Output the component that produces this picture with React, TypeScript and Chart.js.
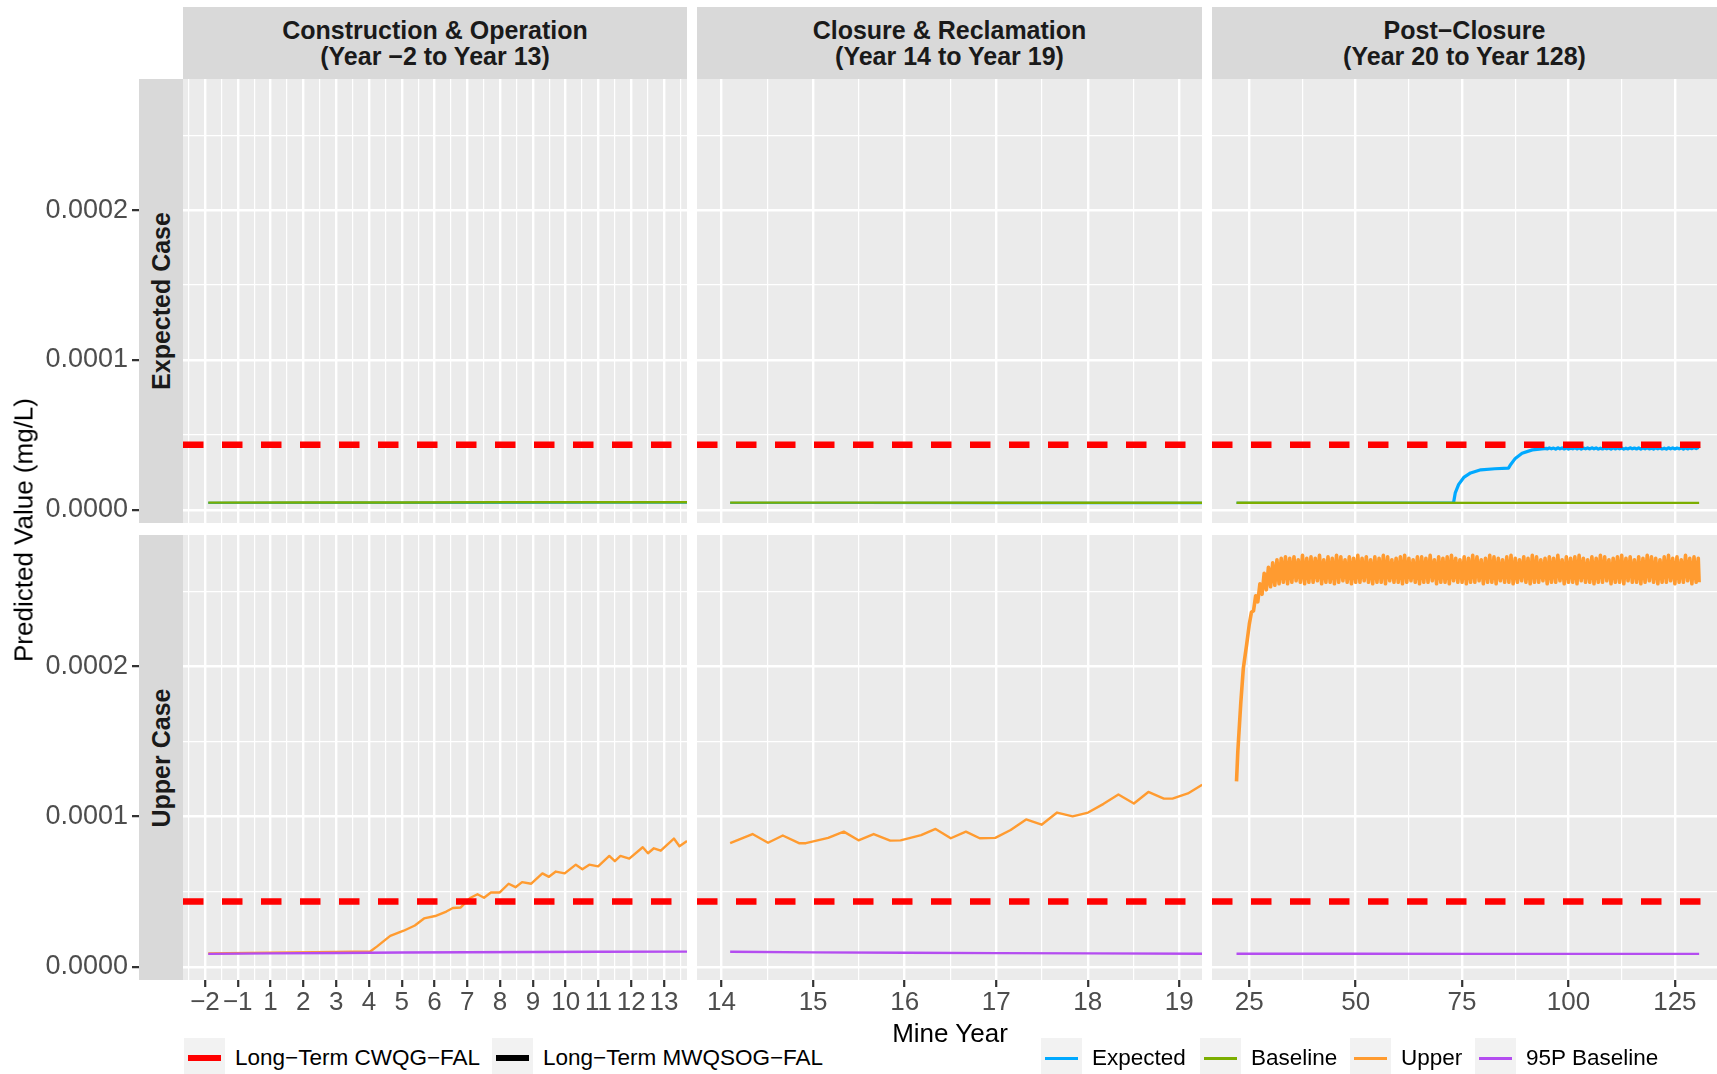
import React, { useEffect, useRef } from "react";
import { Chart, registerables } from "chart.js";

Chart.register(...registerables);

const FONT = "'Liberation Sans', Arial, Helvetica, sans-serif";

// ---------------- DATA (all concentrations in units of 1e-6 mg/L) ----------------
const cwqgFalValue = 43.5;

// y axis (shared)
const yRange = [-8.8, 287.5];
const yMajorTicks = [0, 100, 200];
const yMinorTicks = [50, 150, 250];
const yTickLabels = ["0.0000", "0.0001", "0.0002"];

// Construction & Operation (x = position index of mine year; no year 0)
const coTickLabels = ["\u22122", "\u22121", "1", "2", "3", "4", "5", "6", "7", "8", "9", "10", "11", "12", "13"];
const coTickPositions = [0, 1, 2, 3, 4, 5, 6, 7, 8, 9, 10, 11, 12, 13, 14];
const coMinorTicks = [-0.5, 0.5, 1.5, 2.5, 3.5, 4.5, 5.5, 6.5, 7.5, 8.5, 9.5, 10.5, 11.5, 12.5, 13.5, 14.5];
const coRange = [-0.67, 14.7];

const coExpectedX = [0.1, 4, 8, 12, 14.7];
const coExpectedY = [4.6, 4.7, 4.7, 4.8, 4.8];
const coBaselineX = [0.1, 3, 6, 9, 12, 14.7];
const coBaselineY = [4.8, 4.9, 4.9, 5.0, 5.0, 5.0];
const coUpperX = [0.1, 2.0, 4.0, 5.04, 5.25, 5.65, 6.06, 6.4, 6.68, 7.02, 7.36, 7.56, 7.8, 8.1, 8.31, 8.51, 8.72, 8.99, 9.26, 9.47, 9.67, 9.95, 10.29, 10.49, 10.7, 10.97, 11.31, 11.51, 11.72, 11.99, 12.33, 12.5, 12.67, 12.94, 13.35, 13.51, 13.69, 13.9, 14.3, 14.47, 14.7];
const coUpperY = [8.8, 9.4, 9.9, 10.2, 13.6, 20.6, 24.0, 27.5, 32.2, 33.8, 36.8, 39.1, 39.5, 46.0, 48.3, 46.0, 49.5, 49.5, 55.3, 53.0, 56.4, 55.3, 62.2, 59.9, 63.4, 62.2, 68.0, 65.0, 68.0, 66.9, 73.8, 70.3, 73.8, 72.0, 79.6, 75.6, 78.9, 77.3, 85.4, 80.3, 83.7];
const co95PX = [0.1, 2, 4, 6, 8, 10, 12, 14.7];
const co95PY = [8.6, 8.9, 9.2, 9.5, 9.7, 9.8, 10.0, 10.1];

// Closure & Reclamation (x = mine year)
const crTickLabels = ["14", "15", "16", "17", "18", "19"];
const crTickPositions = [14, 15, 16, 17, 18, 19];
const crMinorTicks = [14.5, 15.5, 16.5, 17.5, 18.5];
const crRange = [13.732, 19.248];

const crExpectedX = [14.094, 15.5, 17, 18.5, 19.25];
const crExpectedY = [4.6, 4.6, 4.5, 4.5, 4.5];
const crBaselineX = [14.094, 15.5, 17, 18.5, 19.25];
const crBaselineY = [4.8, 4.8, 4.7, 4.7, 4.7];
const crUpperX = [14.094, 14.338, 14.508, 14.669, 14.846, 14.921, 15.165, 15.335, 15.496, 15.662, 15.842, 15.955, 16.18, 16.338, 16.504, 16.669, 16.82, 16.99, 17.158, 17.327, 17.496, 17.665, 17.835, 18.004, 18.173, 18.335, 18.504, 18.662, 18.831, 18.925, 19.094, 19.25];
const crUpperY = [82.3, 88.4, 82.6, 87.4, 82.3, 82.3, 85.8, 90.0, 84.2, 88.4, 84.0, 84.2, 87.7, 91.8, 85.6, 90.0, 85.6, 85.8, 91.1, 98.1, 94.6, 102.7, 100.2, 102.7, 108.5, 114.7, 108.7, 116.4, 112.0, 112.0, 115.4, 121.2];
const cr95PX = [14.094, 15, 16, 17, 18, 19.25];
const cr95PY = [10.0, 9.6, 9.3, 9.1, 8.9, 8.7];

// Post-Closure (x = mine year)
const pcTickLabels = ["25", "50", "75", "100", "125"];
const pcTickPositions = [25, 50, 75, 100, 125];
const pcMinorTicks = [37.5, 62.5, 87.5, 112.5];
const pcRange = [16.24, 134.9];

const pcBaselineX = [22, 50, 80, 110, 130.7];
const pcBaselineY = [4.7, 4.7, 4.6, 4.6, 4.6];
const pc95PX = [22, 50, 80, 110, 130.7];
const pc95PY = [8.7, 8.7, 8.6, 8.6, 8.6];

// Expected (post-closure): flat segment hidden under baseline, then rise and plateau
const pcExpectedFlatX = [22, 45, 73.0];
const pcExpectedFlatY = [4.6, 4.6, 4.7];
const pcExpectedRampX = [73.0, 73.4, 74.2, 75.4, 77.0, 79.4, 82.7, 85.9, 86.3, 87.5, 89.1, 91.5, 94.8];
const pcExpectedRampY = [4.8, 11.3, 17.0, 21.6, 24.6, 26.7, 27.4, 27.8, 29.7, 34.3, 37.7, 40.0, 41.0];
const pcExpectedCycleStart = 95; // one low/high pair per year, 95..130
const pcExpectedLows = [40.6, 40.7, 40.5, 40.7, 40.6, 40.5, 40.7, 40.6, 40.5, 40.7, 40.6, 40.7, 40.5, 40.6, 40.7, 40.5, 40.6, 40.7, 40.5, 40.6, 40.7, 40.6, 40.5, 40.7, 40.6, 40.5, 40.7, 40.6, 40.5, 40.7, 40.6, 40.7, 40.5, 40.6, 40.8, 40.9];
const pcExpectedHighs = [41.3, 41.2, 41.4, 41.3, 41.3, 41.1, 41.4, 41.3, 41.2, 41.3, 41.4, 41.3, 41.1, 41.3, 41.2, 41.4, 41.3, 41.3, 41.1, 41.4, 41.2, 41.3, 41.3, 41.4, 41.2, 41.3, 41.3, 41.1, 41.4, 41.3, 41.2, 41.3, 41.4, 41.3, 41.5, 41.6];

const pcUpperRampX = [22.0, 22.3, 23.0, 23.6, 24.4];
const pcUpperRampY = [123.5, 143.0, 175.6, 198.7, 214.9];
const pcUpperCycleStart = 25; // one trough/peak pair per year, 25..130
const pcUpperTroughs = [
  228, 237, 243, 248, 251, 253, 254, 255, 256, 255,
  256, 257, 256, 255, 256, 256, 257, 255, 256, 256,
  255, 256, 257, 256, 255, 256, 256, 257, 256, 255,
  256, 256, 255, 257, 256, 256, 255, 256, 257, 256,
  255, 256, 256, 257, 255, 256, 256, 255, 257, 256,
  256, 255, 256, 256, 257, 255, 256, 256, 255, 257,
  256, 256, 255, 256, 257, 256, 255, 256, 256, 257,
  255, 256, 256, 257, 255, 256, 256, 255, 257, 256,
  256, 255, 256, 256, 257, 255, 256, 256, 255, 257,
  256, 256, 255, 256, 257, 256, 255, 256, 256, 257,
  255, 256, 256, 257, 255, 256,
];
const pcUpperPeaks = [
  236, 247, 255, 262, 266, 269, 271, 272, 273, 272,
  273, 271, 274, 272, 273, 272, 274, 271, 273, 272,
  274, 273, 271, 273, 272, 274, 272, 273, 271, 273,
  272, 274, 273, 271, 272, 273, 274, 272, 271, 273,
  273, 272, 274, 271, 273, 272, 273, 274, 272, 271,
  273, 272, 274, 273, 271, 272, 274, 273, 272, 271,
  273, 274, 272, 271, 273, 272, 274, 273, 271, 272,
  273, 272, 274, 271, 273, 272, 273, 274, 272, 271,
  273, 272, 274, 273, 271, 272, 273, 274, 272, 273,
  271, 273, 272, 274, 273, 272, 271, 273, 274, 272,
  273, 271, 274, 272, 273, 272,
];
const pcSeriesEnd = 130.7;

// ---------------- STYLE ----------------
const COLORS = {
  cwqg: "#FF0000",
  mwqsog: "#000000",
  expected: "#00A9FF",
  baseline: "#7CAE00",
  upper: "#FF9B30",
  p95: "#B44DF0",
};
const LINE_W = 2.4;
const BAND_W = 3.6;
const GUIDE_W = 6.5;
const GUIDE_DASH = [20.5, 18.5];

const COLS = [
  { left: 183, width: 504 },
  { left: 697, width: 505 },
  { left: 1212, width: 505 },
];
const ROWS = [
  { top: 79, height: 444 },
  { top: 535, height: 445 },
];
const Y_AXIS_W = 183;
const X_AXIS_H = 50;

// ---------------- helpers ----------------
type Series = { xs: number[]; ys: number[]; color: string; width: number; dash?: number[] };
type AxisSpec = { min: number; max: number; major: number[]; minor: number[]; labels: string[] };

function cyclePairs(start: number, lows: number[], highs: number[], offset: number, endX: number) {
  const xs: number[] = [];
  const ys: number[] = [];
  lows.forEach((lo, i) => {
    xs.push(start + i, start + i + offset);
    ys.push(lo, highs[i]);
  });
  xs.push(endX);
  ys.push(lows[lows.length - 1]);
  return { xs, ys };
}

const pcUpperCycle = cyclePairs(pcUpperCycleStart, pcUpperTroughs, pcUpperPeaks, 0.5, pcSeriesEnd);
const pcExpectedCycle = cyclePairs(pcExpectedCycleStart, pcExpectedLows, pcExpectedHighs, 0.5, pcSeriesEnd);

const coX: AxisSpec = { min: coRange[0], max: coRange[1], major: coTickPositions, minor: coMinorTicks, labels: coTickLabels };
const crX: AxisSpec = { min: crRange[0], max: crRange[1], major: crTickPositions, minor: crMinorTicks, labels: crTickLabels };
const pcX: AxisSpec = { min: pcRange[0], max: pcRange[1], major: pcTickPositions, minor: pcMinorTicks, labels: pcTickLabels };
const yAxis: AxisSpec = { min: yRange[0], max: yRange[1], major: yMajorTicks, minor: yMinorTicks, labels: yTickLabels };

function guide(axis: AxisSpec): Series {
  return { xs: [axis.min, axis.max], ys: [cwqgFalValue, cwqgFalValue], color: COLORS.cwqg, width: GUIDE_W, dash: GUIDE_DASH };
}

const isMajor = (axis: AxisSpec, v: number) => axis.major.some((m) => Math.abs(m - v) < 1e-9);

function scaleOptions(axis: AxisSpec, horizontal: boolean, show: boolean, size: number, tickLen: number, pad: number, fontSize: number) {
  const all = [...axis.major, ...axis.minor].filter((v) => v >= axis.min && v <= axis.max).sort((a, b) => a - b);
  return {
    type: "linear",
    position: horizontal ? "bottom" : "left",
    min: axis.min,
    max: axis.max,
    border: { display: false },
    afterBuildTicks: (sc: any) => {
      sc.ticks = all.map((v) => ({ value: v }));
    },
    afterFit: (sc: any) => {
      if (horizontal) sc.height = size;
      else sc.width = size;
      sc.paddingLeft = 0;
      sc.paddingRight = 0;
      sc.paddingTop = 0;
      sc.paddingBottom = 0;
    },
    ticks: {
      display: show,
      autoSkip: false,
      maxRotation: 0,
      minRotation: 0,
      padding: pad,
      color: "#4D4D4D",
      font: { family: FONT, size: fontSize },
      callback: (value: any) => {
        const i = axis.major.findIndex((m) => Math.abs(m - Number(value)) < 1e-9);
        return i >= 0 ? axis.labels[i] : "";
      },
    },
    grid: {
      color: "#FFFFFF",
      lineWidth: (c: any) => (c.tick && isMajor(axis, c.tick.value) ? 2.4 : 1.2),
      drawTicks: show,
      tickLength: tickLen,
      tickWidth: 2.2,
      tickColor: (c: any) => (c.tick && isMajor(axis, c.tick.value) ? "#333333" : "rgba(0,0,0,0)"),
    },
  };
}

type PanelProps = {
  left: number;
  top: number;
  width: number;
  height: number;
  x: AxisSpec;
  showX: boolean;
  showY: boolean;
  series: Series[];
};

function Panel(p: PanelProps) {
  const ref = useRef<HTMLCanvasElement>(null);
  const axisW = p.showY ? Y_AXIS_W : 0;
  const axisH = p.showX ? X_AXIS_H : 0;
  const cw = p.width + axisW;
  const ch = p.height + axisH;
  useEffect(() => {
    if (!ref.current) return;
    const chart = new Chart(ref.current, {
      type: "line",
      data: {
        datasets: p.series.map((s) => ({
          data: s.xs.map((x, i) => ({ x, y: s.ys[i] })),
          borderColor: s.color,
          backgroundColor: s.color,
          borderWidth: s.width,
          borderDash: s.dash || [],
          borderCapStyle: "butt",
          borderJoinStyle: "round",
          pointRadius: 0,
          pointHoverRadius: 0,
          tension: 0,
          fill: false,
          clip: 0,
        })),
      } as any,
      options: {
        animation: false,
        responsive: false,
        maintainAspectRatio: false,
        devicePixelRatio: 1,
        events: [],
        layout: { padding: 0, autoPadding: false },
        plugins: { legend: { display: false }, tooltip: { enabled: false }, title: { display: false } },
        scales: {
          x: scaleOptions(p.x, true, p.showX, axisH, 7, 0, 26),
          y: scaleOptions(yAxis, false, p.showY, axisW, 51, 4, 27),
        },
      } as any,
    });
    return () => chart.destroy();
  }, []);
  return (
    <canvas
      ref={ref}
      width={cw}
      height={ch}
      style={{ position: "absolute", left: p.left - axisW, top: p.top, width: cw, height: ch, zIndex: 1 }}
    />
  );
}

const colTitles = [
  ["Construction & Operation", "(Year \u22122 to Year 13)"],
  ["Closure & Reclamation", "(Year 14 to Year 19)"],
  ["Post\u2212Closure", "(Year 20 to Year 128)"],
];
const rowTitles = ["Expected Case", "Upper Case"];

const panelSeries: Series[][][] = [
  [
    [
      guide(coX),
      { xs: coBaselineX, ys: coBaselineY, color: COLORS.baseline, width: LINE_W },
      { xs: coExpectedX, ys: coExpectedY, color: COLORS.expected, width: LINE_W },
    ],
    [
      guide(crX),
      { xs: crBaselineX, ys: crBaselineY, color: COLORS.baseline, width: LINE_W },
      { xs: crExpectedX, ys: crExpectedY, color: COLORS.expected, width: LINE_W },
    ],
    [
      guide(pcX),
      { xs: pcBaselineX, ys: pcBaselineY, color: COLORS.baseline, width: LINE_W },
      { xs: pcExpectedFlatX, ys: pcExpectedFlatY, color: COLORS.expected, width: LINE_W },
      { xs: [...pcExpectedRampX, ...pcExpectedCycle.xs], ys: [...pcExpectedRampY, ...pcExpectedCycle.ys], color: COLORS.expected, width: 3.2 },
    ],
  ],
  [
    [
      guide(coX),
      { xs: co95PX, ys: co95PY, color: COLORS.p95, width: LINE_W },
      { xs: coUpperX, ys: coUpperY, color: COLORS.upper, width: LINE_W },
    ],
    [
      guide(crX),
      { xs: cr95PX, ys: cr95PY, color: COLORS.p95, width: LINE_W },
      { xs: crUpperX, ys: crUpperY, color: COLORS.upper, width: LINE_W },
    ],
    [
      guide(pcX),
      { xs: pc95PX, ys: pc95PY, color: COLORS.p95, width: LINE_W },
      { xs: [...pcUpperRampX, ...pcUpperCycle.xs], ys: [...pcUpperRampY, ...pcUpperCycle.ys], color: COLORS.upper, width: BAND_W },
    ],
  ],
];
const colAxes = [coX, crX, pcX];

const guideLegend = [
  { label: "Long\u2212Term CWQG\u2212FAL", color: COLORS.cwqg, width: 6, left: 184 },
  { label: "Long\u2212Term MWQSOG\u2212FAL", color: COLORS.mwqsog, width: 6, left: 492 },
];
const seriesLegend = [
  { label: "Expected", color: COLORS.expected, width: 3, left: 1041 },
  { label: "Baseline", color: COLORS.baseline, width: 3, left: 1200 },
  { label: "Upper", color: COLORS.upper, width: 3, left: 1350 },
  { label: "95P Baseline", color: COLORS.p95, width: 3, left: 1475 },
];

function LegendItem({ it }: { it: { label: string; color: string; width: number; left: number } }) {
  return (
    <div style={{ position: "absolute", left: it.left, top: 1038, height: 40, display: "flex", alignItems: "center", zIndex: 3 }}>
      <div style={{ width: 41, height: 40, background: "#F2F2F2", position: "relative" }}>
        <div
          style={{
            position: "absolute",
            left: 4,
            right: 4,
            top: 20 - it.width / 2,
            height: it.width,
            background: it.color,
          }}
        />
      </div>
      <div style={{ marginLeft: 10, fontSize: 22.5, color: "#000000", whiteSpace: "nowrap", lineHeight: "40px" }}>{it.label}</div>
    </div>
  );
}

export default function App() {
  return (
    <div
      style={{
        position: "absolute",
        left: 0,
        top: 0,
        width: 1717,
        height: 1074,
        background: "#FFFFFF",
        overflow: "hidden",
        fontFamily: FONT,
      }}
    >
      {ROWS.map((r, ri) =>
        COLS.map((c, ci) => (
          <div
            key={`bg-${ri}-${ci}`}
            style={{ position: "absolute", left: c.left, top: r.top, width: c.width, height: r.height, background: "#EBEBEB", zIndex: 0 }}
          />
        ))
      )}
      {ROWS.map((r, ri) =>
        COLS.map((c, ci) => (
          <Panel
            key={`p-${ri}-${ci}`}
            left={c.left}
            top={r.top}
            width={c.width}
            height={r.height}
            x={colAxes[ci]}
            showX={ri === 1}
            showY={ci === 0}
            series={panelSeries[ri][ci]}
          />
        ))
      )}
      {COLS.map((c, ci) => (
        <div
          key={`st-${ci}`}
          style={{
            position: "absolute",
            left: c.left,
            top: 7,
            width: c.width,
            height: 72,
            background: "#D9D9D9",
            display: "flex",
            flexDirection: "column",
            alignItems: "center",
            justifyContent: "center",
            fontWeight: "bold",
            fontSize: 25,
            lineHeight: "26px",
            color: "#1A1A1A",
            zIndex: 2,
            whiteSpace: "nowrap",
          }}
        >
          <div>{colTitles[ci][0]}</div>
          <div>{colTitles[ci][1]}</div>
        </div>
      ))}
      {ROWS.map((r, ri) => (
        <div
          key={`sl-${ri}`}
          style={{ position: "absolute", left: 139, top: r.top, width: 44, height: r.height, background: "#D9D9D9", zIndex: 2 }}
        >
          <div
            style={{
              position: "absolute",
              left: 22,
              top: r.height / 2,
              transform: "translate(-50%, -50%) rotate(-90deg)",
              whiteSpace: "nowrap",
              fontWeight: "bold",
              fontSize: 25,
              lineHeight: "26px",
              color: "#1A1A1A",
            }}
          >
            {rowTitles[ri]}
          </div>
        </div>
      ))}
      <div
        style={{
          position: "absolute",
          left: 24,
          top: 529.5,
          transform: "translate(-50%, -50%) rotate(-90deg)",
          whiteSpace: "nowrap",
          fontSize: 26,
          color: "#000000",
          zIndex: 3,
        }}
      >
        Predicted Value (mg/L)
      </div>
      <div
        style={{
          position: "absolute",
          left: 950,
          top: 1033,
          transform: "translate(-50%, -50%)",
          whiteSpace: "nowrap",
          fontSize: 26,
          color: "#000000",
          zIndex: 3,
        }}
      >
        Mine Year
      </div>
      {guideLegend.map((it) => (
        <LegendItem key={it.label} it={it} />
      ))}
      {seriesLegend.map((it) => (
        <LegendItem key={it.label} it={it} />
      ))}
    </div>
  );
}
